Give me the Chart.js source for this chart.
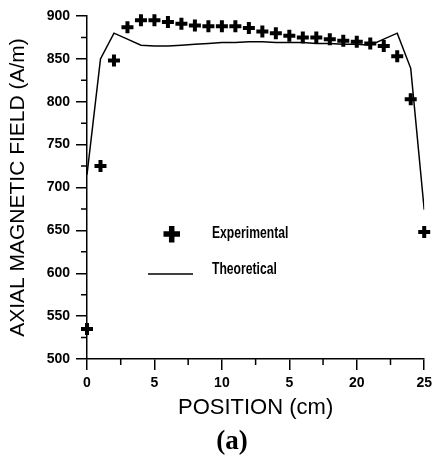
<!DOCTYPE html>
<html>
<head>
<meta charset="utf-8">
<script src="https://cdn.jsdelivr.net/npm/chart.js@4.4.1/dist/chart.umd.min.js"></script>
<style>
html, body { margin: 0; padding: 0; background: #fff; }
</style>
</head>
<body>
<canvas id="fieldChart" width="437" height="459"></canvas>
<script>
// Axial magnetic field along the coil, panel (a)

const positions = [0, 1, 2, 3, 4, 5, 6, 7, 8, 9, 10, 11, 12, 13, 14, 15, 16, 17, 18, 19, 20, 21, 22, 23, 24, 25];
const experimental = [535, 725, 848, 887, 895, 895, 893, 891, 889, 888, 888, 888, 886, 882, 880, 877, 875, 875, 873, 871, 870, 868, 865, 853, 803, 648];
const theoretical = [715, 850, 880, 873, 866, 865, 865, 866, 867, 868, 869, 869, 870, 870, 869, 869, 869, 868, 868, 867, 867, 866, 873, 880, 839, 674];
const xTickLabels = ['0', '5', '10', '5', '20', '25'];
const yTickLabels = ['500', '550', '600', '650', '700', '750', '800', '850', '900'];

const INK = '#000';
const SANS = "'Liberation Sans', Arial, sans-serif";

function toPoints(xs, ys) {
    return xs.map(function(x, i) { return { x: x, y: ys[i] }; });
}

// half-length ticks between the labelled ones
const minorTicks = {
    id: 'minorTicks',
    afterDraw(chart) {
        const ctx = chart.ctx;
        const xs = chart.scales.x;
        const ys = chart.scales.y;
        ctx.save();
        ctx.strokeStyle = INK;
        ctx.lineWidth = 1.5;
        ctx.beginPath();
        for (let i = 0; i < xs.ticks.length - 1; i++) {
            const px = xs.getPixelForValue((xs.ticks[i].value + xs.ticks[i + 1].value) / 2);
            ctx.moveTo(px, xs.top);
            ctx.lineTo(px, xs.top + 6);
        }
        for (let i = 0; i < ys.ticks.length - 1; i++) {
            const py = ys.getPixelForValue((ys.ticks[i].value + ys.ticks[i + 1].value) / 2);
            ctx.moveTo(ys.right, py);
            ctx.lineTo(ys.right - 6, py);
        }
        ctx.stroke();
        ctx.restore();
    }
};

// narrow sans text, like the original's condensed legend face
function narrowText(ctx, text, x, y) {
    ctx.save();
    ctx.translate(x, y);
    ctx.scale(0.76, 1);
    ctx.fillText(text, 0, 0);
    ctx.restore();
}

// legend inside the plot + panel letter
const panelLegend = {
    id: 'panelLegend',
    afterDraw(chart) {
        const ctx = chart.ctx;
        const sets = chart.data.datasets;
        ctx.save();
        ctx.strokeStyle = INK;
        ctx.fillStyle = INK;

        // cross marker
        ctx.lineWidth = 5.5;
        ctx.beginPath();
        ctx.moveTo(163.5, 234); ctx.lineTo(180, 234);
        ctx.moveTo(171.7, 226); ctx.lineTo(171.7, 242.5);
        ctx.stroke();

        // line sample
        ctx.lineWidth = 1.5;
        ctx.beginPath();
        ctx.moveTo(148, 274); ctx.lineTo(193, 274);
        ctx.stroke();

        ctx.font = 'bold 16px ' + SANS;
        ctx.textAlign = 'left';
        ctx.textBaseline = 'middle';
        narrowText(ctx, sets[0].label, 212, 234);
        narrowText(ctx, sets[1].label, 212, 270);

        ctx.font = "bold 27px 'Liberation Serif', 'Times New Roman', serif";
        ctx.textAlign = 'center';
        ctx.fillText('(a)', 232, 442);
        ctx.restore();
    }
};

new Chart(document.getElementById('fieldChart').getContext('2d'), {
    data: {
        datasets: [{
            type: 'scatter',
            label: 'Experimental',
            data: toPoints(positions, experimental),
            pointStyle: 'cross',
            pointRadius: 6,
            pointBorderWidth: 4,
            borderColor: INK,
            backgroundColor: INK,
            clip: false
        }, {
            type: 'line',
            label: 'Theoretical',
            data: toPoints(positions, theoretical),
            borderColor: INK,
            borderWidth: 1.5,
            pointRadius: 0,
            tension: 0,
            fill: false
        }]
    },
    options: {
        responsive: false,
        animation: false,
        layout: { padding: { top: 16, right: 7, bottom: 38, left: 0 } },
        plugins: {
            legend: { display: false },
            tooltip: { enabled: false }
        },
        scales: {
            x: {
                type: 'linear',
                min: 0,
                max: 25,
                afterFit(scale) { scale.height = 62; },
                border: { display: true, color: INK, width: 1.5 },
                grid: { drawOnChartArea: false, color: INK, tickLength: 11, lineWidth: 1.5 },
                ticks: {
                    stepSize: 5,
                    padding: 5,
                    color: INK,
                    font: { family: SANS, size: 14, weight: 'bold' },
                    callback: function(v, i) { return xTickLabels[i]; }
                },
                title: {
                    display: true,
                    text: 'POSITION (cm)',
                    color: INK,
                    font: { family: SANS, size: 22, lineHeight: 1.2 },
                    padding: { top: 0, bottom: 0 }
                }
            },
            y: {
                min: 500,
                max: 900,
                afterFit(scale) { scale.width = 87; },
                border: { display: true, color: INK, width: 1.5 },
                grid: { drawOnChartArea: false, color: INK, tickLength: 11, lineWidth: 1.5 },
                ticks: {
                    stepSize: 50,
                    padding: 6,
                    color: INK,
                    font: { family: SANS, size: 14, weight: 'bold' },
                    callback: function(v, i) { return yTickLabels[i]; }
                },
                title: {
                    display: true,
                    text: 'AXIAL MAGNETIC FIELD (A/m)',
                    color: INK,
                    font: { family: SANS, size: 21, lineHeight: 1.2 },
                    padding: { top: 6, bottom: 0 }
                }
            }
        }
    },
    plugins: [minorTicks, panelLegend]
});
</script>
</body>
</html>
